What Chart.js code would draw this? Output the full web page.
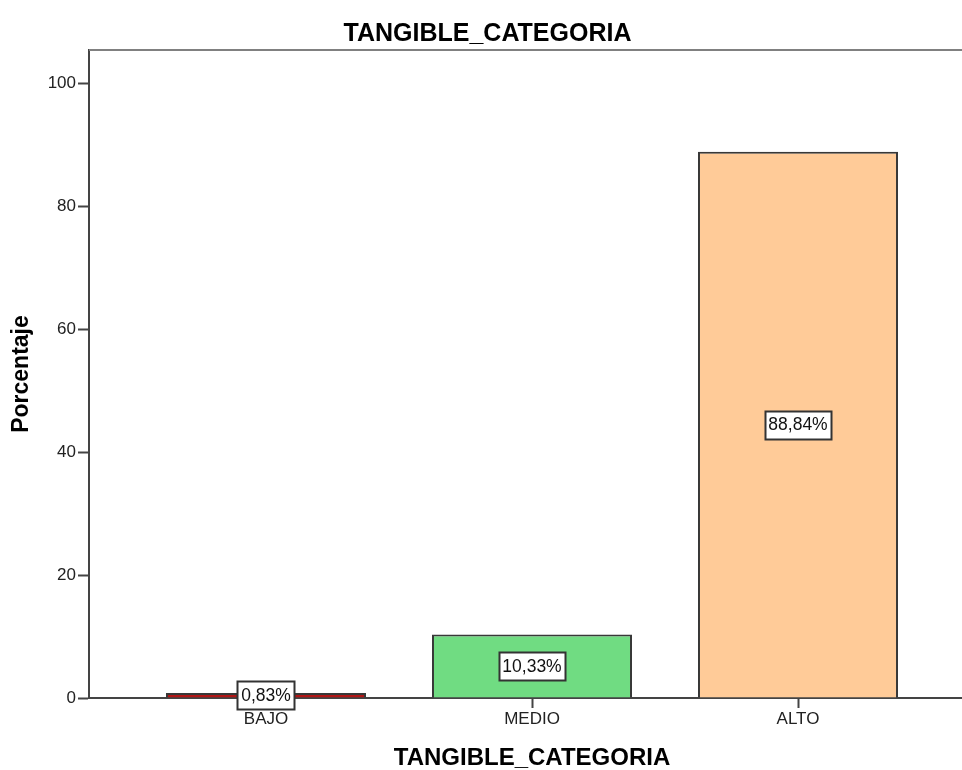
<!DOCTYPE html>
<html>
<head>
<meta charset="utf-8">
<script src="https://cdn.jsdelivr.net/npm/chart.js@4.4.1/dist/chart.umd.min.js"></script>
<style>
html,body{margin:0;padding:0;background:#fff;overflow:hidden;}
#wrap{width:962px;height:770px;position:relative;overflow:hidden;}
</style>
</head>
<body>
<div id="wrap"><canvas id="c" width="975" height="770"></canvas></div>
<script>
const categories = ['BAJO', 'MEDIO', 'ALTO'];
const percentages = [0.83, 10.33, 88.84];
const valueLabels = ['0,83%', '10,33%', '88,84%'];
const yTicks = [0, 20, 40, 60, 80, 100];
const barColors = ['#b01515', '#70dc82', '#ffcb98'];

const FONT = "'Liberation Sans', Arial, sans-serif";

const valueLabelPlugin = {
  id: 'valueLabels',
  afterDatasetsDraw(chart) {
    const ctx = chart.ctx;
    const meta = chart.getDatasetMeta(0);
    ctx.save();
    ctx.font = '17.5px ' + FONT;
    ctx.textAlign = 'center';
    ctx.textBaseline = 'middle';
    meta.data.forEach((bar, i) => {
      const txt = valueLabels[i];
      const cx = bar.x;
      const cy = (bar.y + bar.base) / 2;
      const w = Math.round(ctx.measureText(txt).width + 7);
      const h = 28;
      const x0 = Math.round(cx - w / 2) + 0.5;
      const y0 = Math.round(cy - h / 2) + 0.5;
      ctx.fillStyle = '#ffffff';
      ctx.fillRect(x0, y0, w, h);
      ctx.strokeStyle = '#333333';
      ctx.lineWidth = 2;
      ctx.strokeRect(x0, y0, w, h);
      ctx.fillStyle = '#111111';
      ctx.fillText(txt, cx, cy + 1);
    });
    ctx.restore();
  }
};

const framePlugin = {
  id: 'frame',
  beforeDatasetsDraw(chart) {
    const a = chart.chartArea;
    const ctx = chart.ctx;
    ctx.save();
    ctx.strokeStyle = '#808080';
    ctx.lineWidth = 2;
    ctx.beginPath();
    ctx.moveTo(a.left, a.top);
    ctx.lineTo(a.right, a.top);
    ctx.stroke();
    ctx.restore();
  }
};

new Chart(document.getElementById('c'), {
  type: 'bar',
  data: {
    datasets: [{
      data: categories.map((c, i) => ({ x: i + 1, y: percentages[i] })),
      backgroundColor: barColors,
      borderColor: '#383838',
      borderWidth: 2,
      borderSkipped: 'bottom',
      categoryPercentage: 1,
      barPercentage: 0.752
    }]
  },
  plugins: [framePlugin, valueLabelPlugin],
  options: {
    responsive: false,
    animation: false,
    devicePixelRatio: 1,
    layout: { padding: 0 },
    plugins: {
      legend: { display: false },
      tooltip: { enabled: false },
      title: {
        display: true,
        text: 'TANGIBLE_CATEGORIA',
        color: '#000',
        font: { family: FONT, size: 25, weight: 'bold', lineHeight: 1.2 },
        padding: { top: 19, bottom: 1 }
      }
    },
    scales: {
      x: {
        type: 'linear',
        offset: false,
        min: 0.3346,
        max: 3.6654,
        afterBuildTicks(scale) { scale.ticks = categories.map((c, i) => ({ value: i + 1 })); },
        afterFit(scale) { scale.height = 72; },
        ticks: {
          callback: (v) => categories[v - 1] || '',
          color: '#222',
          font: { family: FONT, size: 17 },
          padding: 1,
          maxRotation: 0,
          autoSkip: false
        },
        grid: { display: true, offset: false, drawOnChartArea: false, drawTicks: true, tickLength: 10, color: '#444', tickWidth: 2 },
        border: { display: true, color: '#444', width: 2 },
        title: {
          display: true,
          text: 'TANGIBLE_CATEGORIA',
          color: '#000',
          font: { family: FONT, size: 24, weight: 'bold', lineHeight: 1 },
          padding: { top: 0, bottom: 0 }
        }
      },
      y: {
        min: 0,
        max: 105.4,
        afterBuildTicks(scale) { scale.ticks = yTicks.map(v => ({ value: v })); },
        afterFit(scale) { scale.width = 89; },
        ticks: {
          color: '#222',
          font: { family: FONT, size: 17 },
          padding: 2
        },
        grid: { display: true, drawOnChartArea: false, drawTicks: true, tickLength: 11, color: '#444', tickWidth: 2 },
        border: { display: true, color: '#444', width: 2 },
        title: {
          display: true,
          text: 'Porcentaje',
          color: '#000',
          font: { family: FONT, size: 23, weight: 'bold', lineHeight: 1 },
          padding: { top: 10, bottom: 0 }
        }
      }
    }
  }
});
</script>
</body>
</html>
